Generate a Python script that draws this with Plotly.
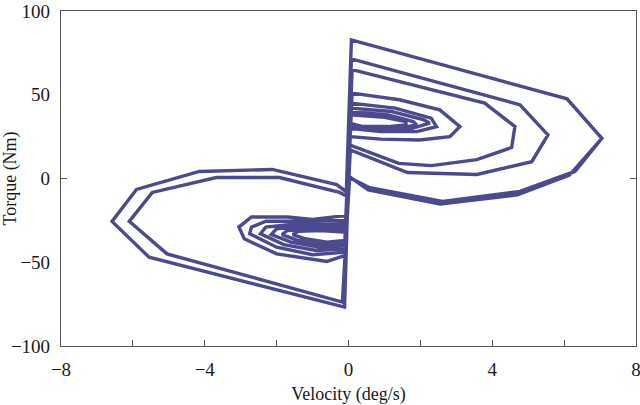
import plotly.graph_objects as go

# Velocity / torque trajectory, split into the lobes it sweeps.
# Right lobes: positive velocity (clockwise), left lobes: negative velocity.
v_start = [7.05, 6.15, 4.70, 2.55, 0.55, 0.00]
t_start = [24.0, 2.0, -9.8, -15.2, -6.8, 1.5]

v_left_1 = [-0.11, -5.55, -6.58, -5.90, -4.15, -2.12, -0.33, -0.06]
t_left_1 = [-76.8, -47.0, -25.6, -6.5, 4.2, 5.4, -3.6, -8.0]

v_right_1 = [0.08, 6.08, 7.05, 6.30, 4.77, 2.62, 0.59, 0.03]
t_right_1 = [82.7, 47.6, 24.0, 4.2, -7.7, -13.7, -5.5, 0.5]

v_left_2 = [-0.17, -5.05, -6.10, -5.46, -3.68, -1.92, -0.25, -0.05]
t_left_2 = [-73.8, -45.0, -25.6, -8.3, 0.6, 0.6, -8.3, -10.5]

v_right_2 = [0.08, 4.77, 5.55, 5.10, 3.57, 1.64, 0.05]
t_right_2 = [71.4, 44.0, 26.0, 10.0, 2.4, 3.6, 17.0]

v_left_3 = [-0.10, -0.60, -2.00, -2.90, -3.05, -2.70, -1.70, -1.00, -0.05]
t_left_3 = [-46.0, -49.5, -45.0, -36.0, -29.0, -23.0, -23.0, -24.5, -22.0]

v_right_3 = [0.10, 3.79, 4.63, 4.54, 3.57, 2.31, 1.40, 0.03]
t_right_3 = [65.0, 45.0, 31.0, 18.5, 11.3, 7.7, 9.0, 20.0]

v_left_4 = [-0.10, -1.00, -2.00, -2.75, -2.70, -2.30, -1.20, -0.05]
t_left_4 = [-44.0, -45.5, -41.0, -33.0, -29.0, -25.5, -25.5, -25.0]

v_right_4 = [0.10, 1.42, 2.54, 3.10, 2.82, 1.98, 0.90, 0.03]
t_right_4 = [51.0, 47.0, 41.0, 31.0, 25.0, 23.0, 23.5, 25.0]

v_left_5 = [-0.10, -0.90, -1.80, -2.45, -2.30, -1.40, -0.60, -0.05]
t_left_5 = [-42.0, -43.0, -39.5, -33.0, -29.0, -27.0, -27.5, -27.0]

v_right_5 = [0.05, 1.30, 2.30, 2.45, 1.90, 0.90, 0.03]
t_right_5 = [45.0, 42.0, 36.0, 31.0, 28.0, 28.0, 30.0]

v_left_6 = [-0.10, -0.80, -1.60, -2.15, -2.00, -1.20, -0.50, -0.05]
t_left_6 = [-40.0, -41.0, -38.0, -33.5, -30.0, -28.5, -29.0, -29.0]

v_right_6 = [0.05, 1.20, 2.10, 2.26, 1.70, 0.80, 0.03]
t_right_6 = [42.0, 40.0, 35.0, 33.0, 29.5, 29.0, 31.0]

v_left_7 = [-0.10, -0.70, -1.40, -1.85, -1.70, -1.00, -0.40, -0.05]
t_left_7 = [-38.5, -39.5, -37.0, -33.5, -31.0, -30.0, -30.5, -30.5]

v_right_7 = [0.05, 1.10, 1.80, 1.90, 1.40, 0.60, 0.03]
t_right_7 = [40.0, 38.0, 34.0, 32.0, 30.0, 30.0, 32.0]

v_left_8 = [-0.10, -0.60, -1.20, -1.55, -1.40, -0.80, -0.05]
t_left_8 = [-37.0, -38.0, -36.0, -33.5, -31.5, -31.0, -32.0]

v_right_8 = [0.05, 1.00, 1.60, 1.60, 1.10, 0.40, 0.03]
t_right_8 = [38.0, 36.5, 34.0, 32.0, 31.0, 31.0, 33.0]

x_tick_vals = [-8, -6, -4, -2, 0, 2, 4, 6, 8]
x_tick_text = ["\u22128", "", "\u22124", "", "0", "", "4", "", "8"]
y_tick_vals = [-100, -50, 0, 50, 100]
y_tick_text = ["\u2212100", "\u221250", "0", "50", "100"]

segments = [
    (v_start, t_start),
    (v_left_1, t_left_1), (v_right_1, t_right_1),
    (v_left_2, t_left_2), (v_right_2, t_right_2),
    (v_left_3, t_left_3), (v_right_3, t_right_3),
    (v_left_4, t_left_4), (v_right_4, t_right_4),
    (v_left_5, t_left_5), (v_right_5, t_right_5),
    (v_left_6, t_left_6), (v_right_6, t_right_6),
    (v_left_7, t_left_7), (v_right_7, t_right_7),
    (v_left_8, t_left_8), (v_right_8, t_right_8),
]
velocity = [v for seg in segments for v in seg[0]]
torque = [t for seg in segments for t in seg[1]]

LINE = "#4b4a8e"
AXIS = "#555555"
FONT = "Liberation Serif"

fig = go.Figure()
fig.add_trace(go.Scatter(
    x=velocity, y=torque, mode="lines",
    line=dict(color=LINE, width=3.4),
    hoverinfo="skip", showlegend=False,
))
# empty trace that carries the tick-only overlay axis
fig.add_trace(go.Scatter(x=[None], y=[None], yaxis="y2", showlegend=False,
                         hoverinfo="skip"))

fig.update_layout(
    width=640, height=405,
    margin=dict(l=61, r=4, t=11, b=59),
    paper_bgcolor="white", plot_bgcolor="white",
    font=dict(family=FONT, size=19, color="#1a1a1a"),
    xaxis=dict(
        range=[-8, 8], tickmode="array", tickvals=x_tick_vals, ticktext=x_tick_text,
        ticks="inside", ticklen=6, tickcolor=AXIS, tickwidth=1,
        showline=True, linecolor=AXIS, linewidth=1.2, mirror=True,
        showgrid=False, zeroline=False, automargin=False,
        ticklabelstandoff=6, ticklabeloverflow="allow",
        tickfont=dict(family=FONT, size=19),
        title=dict(text="Velocity (deg/s)", font=dict(family=FONT, size=18), standoff=8),
    ),
    yaxis=dict(
        range=[-100, 100], tickmode="array", tickvals=y_tick_vals, ticktext=y_tick_text,
        ticks="", showline=True, linecolor=AXIS, linewidth=1.2, mirror=True,
        showgrid=False, zeroline=False, ticklabelstandoff=6, automargin=False,
        ticklabeloverflow="allow",
        tickfont=dict(family=FONT, size=19),
        title=dict(text="Torque (Nm)", font=dict(family=FONT, size=18), standoff=0),
    ),
    yaxis2=dict(
        range=[-100, 100], overlaying="y", side="left", anchor="x",
        tickmode="array", tickvals=[0], showticklabels=False,
        ticks="inside", ticklen=6, tickcolor=AXIS, tickwidth=1, mirror="ticks",
        showline=False, showgrid=False, zeroline=False,
    ),
)

fig.write_html("out.html")
